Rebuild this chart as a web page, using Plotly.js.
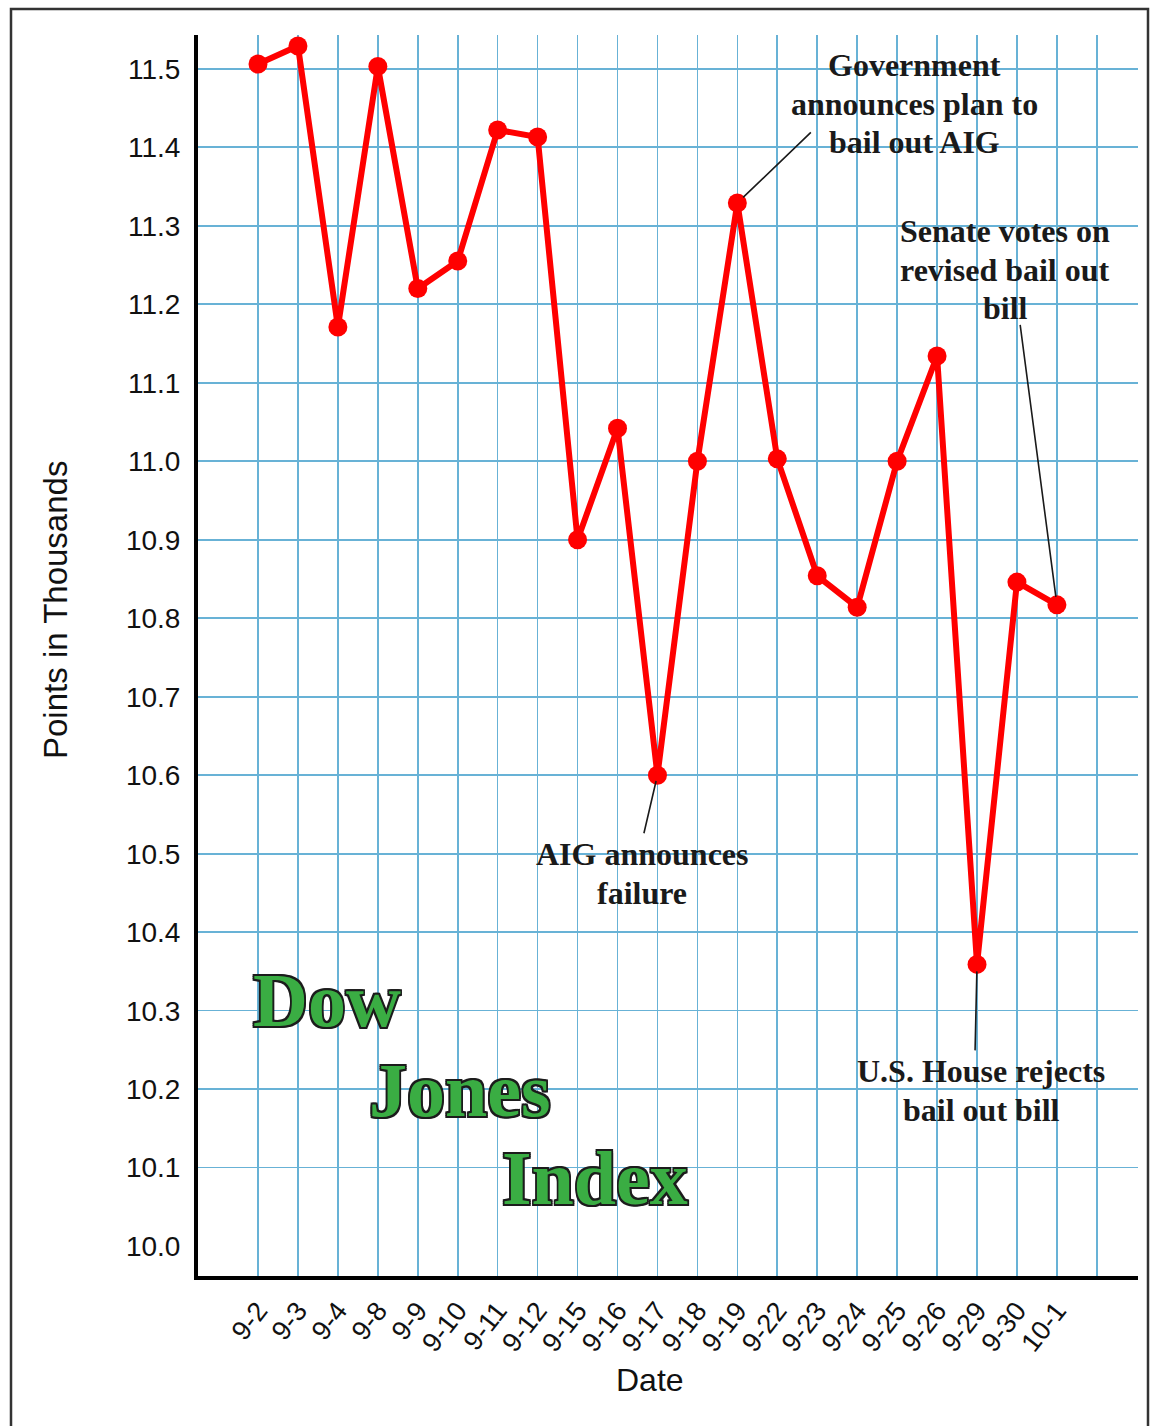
<!DOCTYPE html>
<html>
<head>
<meta charset="utf-8">
<script src="https://cdn.plot.ly/plotly-3.0.1.min.js"></script>
<style>html,body{margin:0;padding:0;background:#fff;}#chart{width:1159px;height:1426px;}</style>
</head>
<body>
<div id="chart"></div>
<script>
// ---- data ----
const dates = ['9-2','9-3','9-4','9-8','9-9','9-10','9-11','9-12','9-15','9-16','9-17','9-18','9-19','9-22','9-23','9-24','9-25','9-26','9-29','9-30','10-1'];
const values = [11.506, 11.529, 11.171, 11.503, 11.220, 11.255, 11.422, 11.413, 10.900, 11.042, 10.600, 11.000, 11.329, 11.003, 10.854, 10.814, 11.000, 11.134, 10.359, 10.846, 10.817];
const yTickVals = [10.0,10.1,10.2,10.3,10.4,10.5,10.6,10.7,10.8,10.9,11.0,11.1,11.2,11.3,11.4,11.5];
const yGridVals = [10.1,10.2,10.3,10.4,10.5,10.6,10.7,10.8,10.9,11.0,11.1,11.2,11.3,11.4,11.5];
const titleText = ['Dow', 'Jones', 'Index'];
const xTitle = 'Date';
const yTitle = 'Points in Thousands';
const govLines = ['Government', 'announces plan to', 'bail out AIG'];
const senateLines = ['Senate votes on', 'revised bail out', 'bill'];
const aigLines = ['AIG announces', 'failure'];
const houseLines = ['U.S. House rejects', 'bail out bill'];

// ---- build ----
const xIdx = dates.map((d, i) => i);
const xTickVals = dates.map((d, i) => i).concat([dates.length]);
const xTickText = dates.concat(['']);
const idx = d => dates.indexOf(d);

const W = 1159, H = 1426;
const M = {l: 198, r: 21, t: 35, b: 150};
const pw = W - M.l - M.r, ph = H - M.t - M.b;
const px = x => (x - M.l) / pw;          // pixel -> paper
const py = y => (H - M.b - y) / ph;

const gridColor = 'rgb(104,178,214)';
const serif = 'Liberation Serif, Times New Roman, serif';
const sans = 'Liberation Sans, Arial, Helvetica, sans-serif';
const noteFont = {family: serif, size: 32, color: '#1a1a1a', weight: 700};
const outline = '#1c1c1c';
const s = '1.7px';
const shadow = [
  '-' + s + ' -' + s + ' 0 ' + outline, s + ' -' + s + ' 0 ' + outline,
  '-' + s + ' ' + s + ' 0 ' + outline, s + ' ' + s + ' 0 ' + outline,
  '0 ' + s + ' 0 ' + outline, '0 -' + s + ' 0 ' + outline,
  s + ' 0 0 ' + outline, '-' + s + ' 0 0 ' + outline
].join(', ');
const bigFont = {family: serif, size: 76, color: '#3aad43', weight: 700, shadow: shadow};

const traces = [
  {
    x: xIdx, y: values, type: 'scatter', mode: 'lines+markers',
    line: {color: '#ff0000', width: 6},
    marker: {color: '#ff0000', size: 19},
    showlegend: false, hoverinfo: 'skip', cliponaxis: false
  },
  {
    x: [], y: [], yaxis: 'y2', type: 'scatter', mode: 'markers',
    showlegend: false, hoverinfo: 'skip'
  }
];

function arrow(d, ax, ay, standoff) {
  return {
    x: idx(d), y: values[idx(d)], xref: 'x', yref: 'y',
    text: ' ', font: {size: 1}, showarrow: true, arrowhead: 0,
    arrowwidth: 1.6, arrowcolor: '#1a1a1a', ax: ax, ay: ay,
    axref: 'pixel', ayref: 'pixel', standoff: standoff
  };
}
function note(text, x, y, font) {
  return {text: text, x: x, y: y, xref: 'paper', yref: 'paper',
    xanchor: 'center', yanchor: 'middle', showarrow: false, align: 'center', font: font};
}
function block(lines, cx, y0, step) {
  return lines.map((t, i) => note(t, px(cx), py(y0 + i * step), noteFont));
}

const annotations = [
  Object.assign(note(yTitle, px(55), py(610), {family: sans, size: 33, color: '#111'}), {textangle: -90}),
  note(xTitle, px(650), py(1380), {family: sans, size: 32, color: '#111'}),
  note(titleText[0], px(327), py(1000), bigFont),
  note(titleText[1], px(460), py(1090), bigFont),
  note(titleText[2], px(595), py(1178), bigFont),
  arrow('9-19', 75, -72, 8),
  arrow('9-17', -14, 60, 6),
  arrow('9-29', -2, 88, 7),
  arrow('10-1', -37, -282, 8)
].concat(
  block(govLines, 914, 65, 38.5),
  block(senateLines, 1005, 231, 38.5),
  block(aigLines, 642, 854, 38.5),
  block(houseLines, 981, 1071, 38.5)
);

const layout = {
  width: W, height: H,
  margin: M,
  paper_bgcolor: '#ffffff', plot_bgcolor: '#ffffff',
  xaxis: {
    range: [-1.502, 22.03], tickmode: 'array', tickvals: xTickVals, ticktext: xTickText,
    showgrid: true, gridcolor: gridColor, gridwidth: 1.6, zeroline: false,
    showline: true, linecolor: '#000', linewidth: 4, ticks: '',
    tickangle: -52, tickfont: {family: sans, size: 27, color: '#111'},
    ticklabelstandoff: 4
  },
  yaxis: {
    range: [9.962, 11.543], tickmode: 'array', tickvals: yGridVals,
    showgrid: true, gridcolor: gridColor, gridwidth: 1.6, zeroline: false,
    showticklabels: false, ticks: '', showline: false
  },
  yaxis2: {
    overlaying: 'y', side: 'left', anchor: 'x',
    range: [9.962, 11.543], tickmode: 'array', tickvals: yTickVals,
    ticktext: yTickVals.map(v => v.toFixed(1)),
    showgrid: false, zeroline: false, ticks: '',
    showline: true, linecolor: '#000', linewidth: 4,
    tickfont: {family: sans, size: 28, color: '#111'},
    ticklabelstandoff: 8
  },
  shapes: [
    {type: 'rect', xref: 'paper', yref: 'paper', x0: px(11), x1: px(1148), y0: py(1440), y1: py(9),
     line: {color: '#333', width: 2.5}, fillcolor: 'rgba(0,0,0,0)', layer: 'above'}
  ],
  annotations: annotations
};

Plotly.newPlot('chart', traces, layout, {staticPlot: true, displayModeBar: false});
</script>
</body>
</html>
